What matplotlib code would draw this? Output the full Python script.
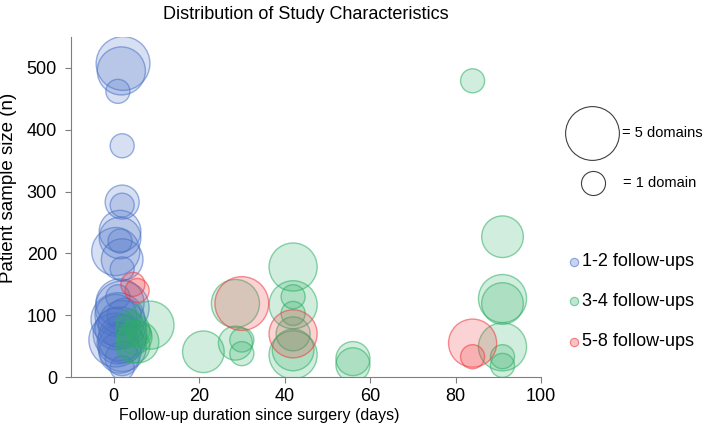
import numpy as np
import matplotlib
matplotlib.use('Agg')
import matplotlib.pyplot as plt

plt.rcParams['font.family'] = ['Liberation Sans', 'DejaVu Sans']

# --- data: follow-up day, sample size, number of domains ---
blue_x = [2.2, 1.8, 1.0, 2.0, 2.0, 2.0, 1.5, 1.5, 0.5, 2.0, 2.0, 1.5,
          1.5, 2.0, 0.5, 1.0, 2.0, 0.5, 1.5, 2.0, 1.0, 2.0, 1.5, 2.0, 2.0, 0.5, 2.5, 1.0]
blue_y = [507, 495, 462, 374, 283, 278, 236, 225, 203, 190, 175, 220,
          120, 112, 100, 93, 85, 78, 70, 62, 55, 48, 40, 30, 15, 60, 100, 130]
blue_d = [5, 4, 1, 1, 2, 1, 3, 3, 4, 3, 1, 1,
          4, 5, 3, 5, 4, 3, 5, 4, 3, 4, 3, 2, 1, 5, 2, 1]

green_x = [8.5, 5.7, 4.5, 5.0, 3.5, 6.0, 4.5,
           21, 28.5, 28.5, 30, 30,
           42, 42, 42, 42, 42, 42, 42,
           56, 56, 84, 91, 91, 91, 91, 91, 91]
green_y = [84, 57, 76, 65, 90, 70, 50,
           41, 119, 55, 60, 38,
           178, 117, 130, 103, 70, 44, 36,
           30, 20, 479, 227, 127, 119, 49, 33, 19]
green_d = [4, 3, 2, 2, 1, 1, 2,
           3, 4, 2, 1, 1,
           4, 4, 1, 1, 2, 3, 4,
           2, 2, 1, 3, 4, 3, 4, 1, 1]

red_x = [4.5, 5.5, 30, 42, 84, 84]
red_y = [150, 140, 119, 70, 55, 33]
red_d = [1, 1, 5, 4, 4, 1]

groups = ['1-2 follow-ups', '3-4 follow-ups', '5-8 follow-ups']
colors = ['#4A72C8', '#2EAF66', '#F0383F']

SCALE = 300  # marker area per domain

fig = plt.figure(figsize=(7.09, 4.34), dpi=100)
ax = fig.add_axes([0.100, 0.131, 0.663, 0.784])

for xs, ys, ds, c in zip([blue_x, green_x, red_x], [blue_y, green_y, red_y],
                         [blue_d, green_d, red_d], colors):
    rgb = matplotlib.colors.to_rgb(c)
    ax.scatter(xs, ys, s=np.array(ds) * SCALE, facecolor=rgb + (0.22,),
               edgecolor=rgb + (0.55,), linewidth=1.0, zorder=2)

ax.set_xlim(-10, 100)
ax.set_ylim(0, 550)
ax.set_xticks([0, 20, 40, 60, 80, 100])
ax.set_yticks([0, 100, 200, 300, 400, 500])
for s in ['top', 'right']:
    ax.spines[s].set_visible(False)
for s in ['left', 'bottom']:
    ax.spines[s].set_color('#7f7f7f')
ax.tick_params(colors='#7f7f7f', labelcolor='black', labelsize=13, length=4)
ax.tick_params(axis='y', pad=6)
ax.set_xlabel('Follow-up duration since surgery (days)', fontsize=11.5)
ax.set_ylabel('Patient sample size (n)', fontsize=13.5)
ax.xaxis.set_label_coords(0.40, -0.09)
ax.yaxis.set_label_coords(-0.115, 0.555)
ax.set_title('Distribution of Study Characteristics', fontsize=13, pad=13)

# size legend
W, H = 709, 434
def fpos(px, py):
    return px / W, 1 - py / H

for d, (px, py), label, tx in [(5, (592, 133), '= 5 domains', 622),
                               (1, (593, 183), '= 1 domain', 623)]:
    fx, fy = fpos(px, py)
    fig.add_artist(plt.Line2D([fx], [fy], marker='o', linestyle='',
                              markersize=np.sqrt(d * SCALE),
                              markerfacecolor='none', markeredgecolor='#404040',
                              markeredgewidth=0.8))
    tx_, ty_ = fpos(tx, py)
    fig.text(tx_, ty_, label, fontsize=10.5, va='center', ha='left')

# colour legend
for i, (g, c) in enumerate(zip(groups, colors)):
    py = [262, 301, 342][i]
    fx, fy = fpos(574, py)
    rgb = matplotlib.colors.to_rgb(c)
    fig.add_artist(plt.Line2D([fx], [fy], marker='o', linestyle='', markersize=6,
                              markerfacecolor=rgb + (0.3,), markeredgecolor=rgb + (0.6,),
                              markeredgewidth=0.8))
    tx_, ty_ = fpos(582, py)
    fig.text(tx_, ty_, g, fontsize=13, va='center', ha='left')

fig.savefig('out.png', dpi=100)
